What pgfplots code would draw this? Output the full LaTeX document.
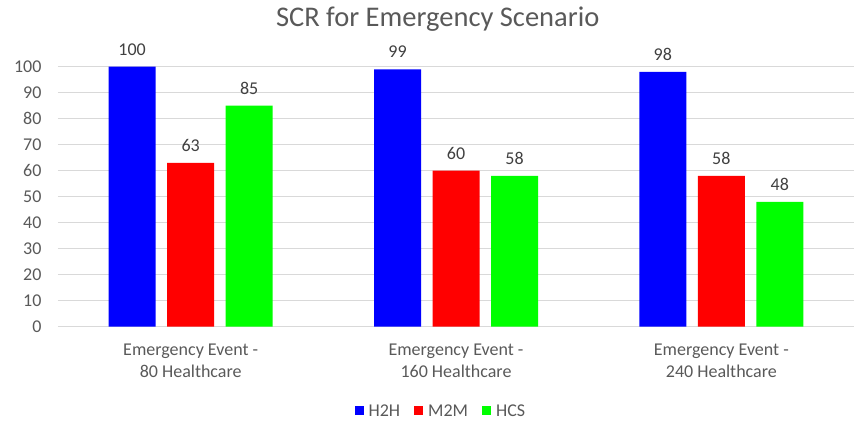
\documentclass[border=0pt]{standalone}
\usepackage{fontspec}
\setmainfont{Carlito}
\usepackage{pgfplots}
\pgfplotsset{compat=1.18}
\definecolor{txt}{HTML}{595959}
\definecolor{gridc}{HTML}{D9D9D9}
\definecolor{lbl}{HTML}{404040}
\begin{document}
\begin{tikzpicture}[x=1pt,y=1pt]
\useasboundingbox (-58,-108.3) rectangle (800,326.7);
\begin{axis}[
  at={(0,0)}, anchor=south west,
  scale only axis, width=796pt, height=260pt,
  xmin=-0.5, xmax=2.5, ymin=0, ymax=100,
  ybar=11.5pt, bar width=47pt,
  xtick={0,1,2},
  xticklabels={{Emergency Event -\\80 Healthcare},{Emergency Event -\\160 Healthcare},{Emergency Event -\\240 Healthcare}},
  xticklabel style={align=center, font=\fontsize{18}{21.6}\selectfont, text=txt, yshift=-14pt},
  ytick={0,10,...,100},
  yticklabel style={font=\fontsize{18}{21.6}\selectfont, text=txt, xshift=-13pt},
  /pgf/number format/assume math mode=true,
  major tick length=0pt,
  axis line style={draw=none},
  ymajorgrids, grid style={gridc, line width=1pt},
  clip=false,
  nodes near coords,
  every node near coord/.append style={font=\fontsize{18}{21.6}\selectfont, text=lbl, yshift=8pt},
  title={SCR for Emergency Scenario},
  title style={at={(0.477,1.16)}, anchor=center, font=\fontsize{28.5}{34}\selectfont, text=txt},
  legend columns=-1,
  legend style={at={(0.481,-0.324)}, anchor=center, draw=none, fill=none,
    font=\fontsize{18}{21.6}\selectfont, text=txt, inner sep=0pt},
  legend image code/.code={\fill[#1] (0pt,-4.5pt) rectangle (9pt,4.5pt);},
]
\addplot[fill={rgb,255:red,0;green,0;blue,255}, draw=none] coordinates {(0,100) (1,99) (2,98)};
\addplot[fill={rgb,255:red,255;green,0;blue,0}, draw=none] coordinates {(0,63) (1,60) (2,58)};
\addplot[fill={rgb,255:red,0;green,255;blue,0}, draw=none] coordinates {(0,85) (1,58) (2,48)};
\legend{\rule{3pt}{0pt}H2H\rule{12pt}{0pt}, \rule{3pt}{0pt}M2M\rule{12pt}{0pt}, \rule{3pt}{0pt}HCS}
\end{axis}
\end{tikzpicture}
\end{document}
